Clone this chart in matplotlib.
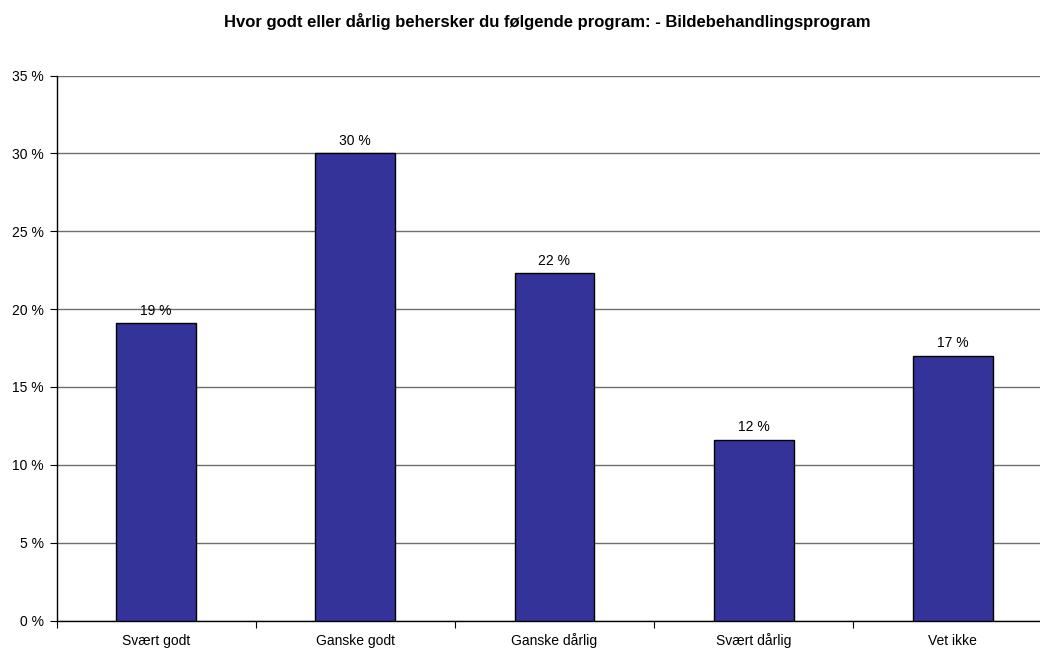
import matplotlib.pyplot as plt
import matplotlib.transforms as mtransforms
import numpy as np

plt.rcParams['font.family'] = ['Liberation Sans', 'DejaVu Sans']

categories = ['Svært godt', 'Ganske godt', 'Ganske dårlig', 'Svært dårlig', 'Vet ikke']
values = [19.1, 30.0, 22.3, 11.6, 17.0]
labels = ['19 %', '30 %', '22 %', '12 %', '17 %']
yticks = [0, 5, 10, 15, 20, 25, 30, 35]
title = 'Hvor godt eller dårlig behersker du følgende program: - Bildebehandlingsprogram'

W, H = 1040, 650
fig = plt.figure(figsize=(W / 100, H / 100), dpi=100)
ax = fig.add_axes([56.5 / W, 1 - 620.5 / H, 996 / W, 545 / H])

x = np.arange(len(categories))
ax.bar(x, values, width=0.4, color='#333399', edgecolor='black', linewidth=1, zorder=3)
for xi, v, lab in zip(x, values, labels):
    ax.annotate(lab, (xi, v), xytext=(0, 4), textcoords='offset points',
                ha='center', va='bottom', fontsize=10, zorder=2)

ax.set_xlim(-0.5, len(categories) - 0.5)
ax.set_ylim(0, 35)
ax.set_yticks(yticks)
ax.set_yticklabels([f'{t} %' for t in yticks], fontsize=10)
ax.yaxis.grid(True, color='#6e6e6e', linewidth=1, zorder=0)
ax.set_xticks([])
ax.set_xticks(np.arange(len(categories) + 1) - 0.5, minor=True)
ax.tick_params(axis='x', which='minor', length=5, width=0.8)
ax.tick_params(axis='y', length=5, width=0.8, pad=4)
for s in ['top', 'right']:
    ax.spines[s].set_visible(False)
ax.spines['left'].set_linewidth(1)
ax.spines['bottom'].set_linewidth(1)

# category labels on a common baseline
trans = mtransforms.blended_transform_factory(ax.transData, fig.transFigure)
for xi, c in zip(x, categories):
    ax.text(xi, 1 - 645 / H, c, transform=trans, ha='center', va='baseline', fontsize=10)

fig.text(547 / W, 1 - 27 / H, title, ha='center', va='baseline', fontsize=12, fontweight='bold')

fig.savefig('out.png', dpi=100)
